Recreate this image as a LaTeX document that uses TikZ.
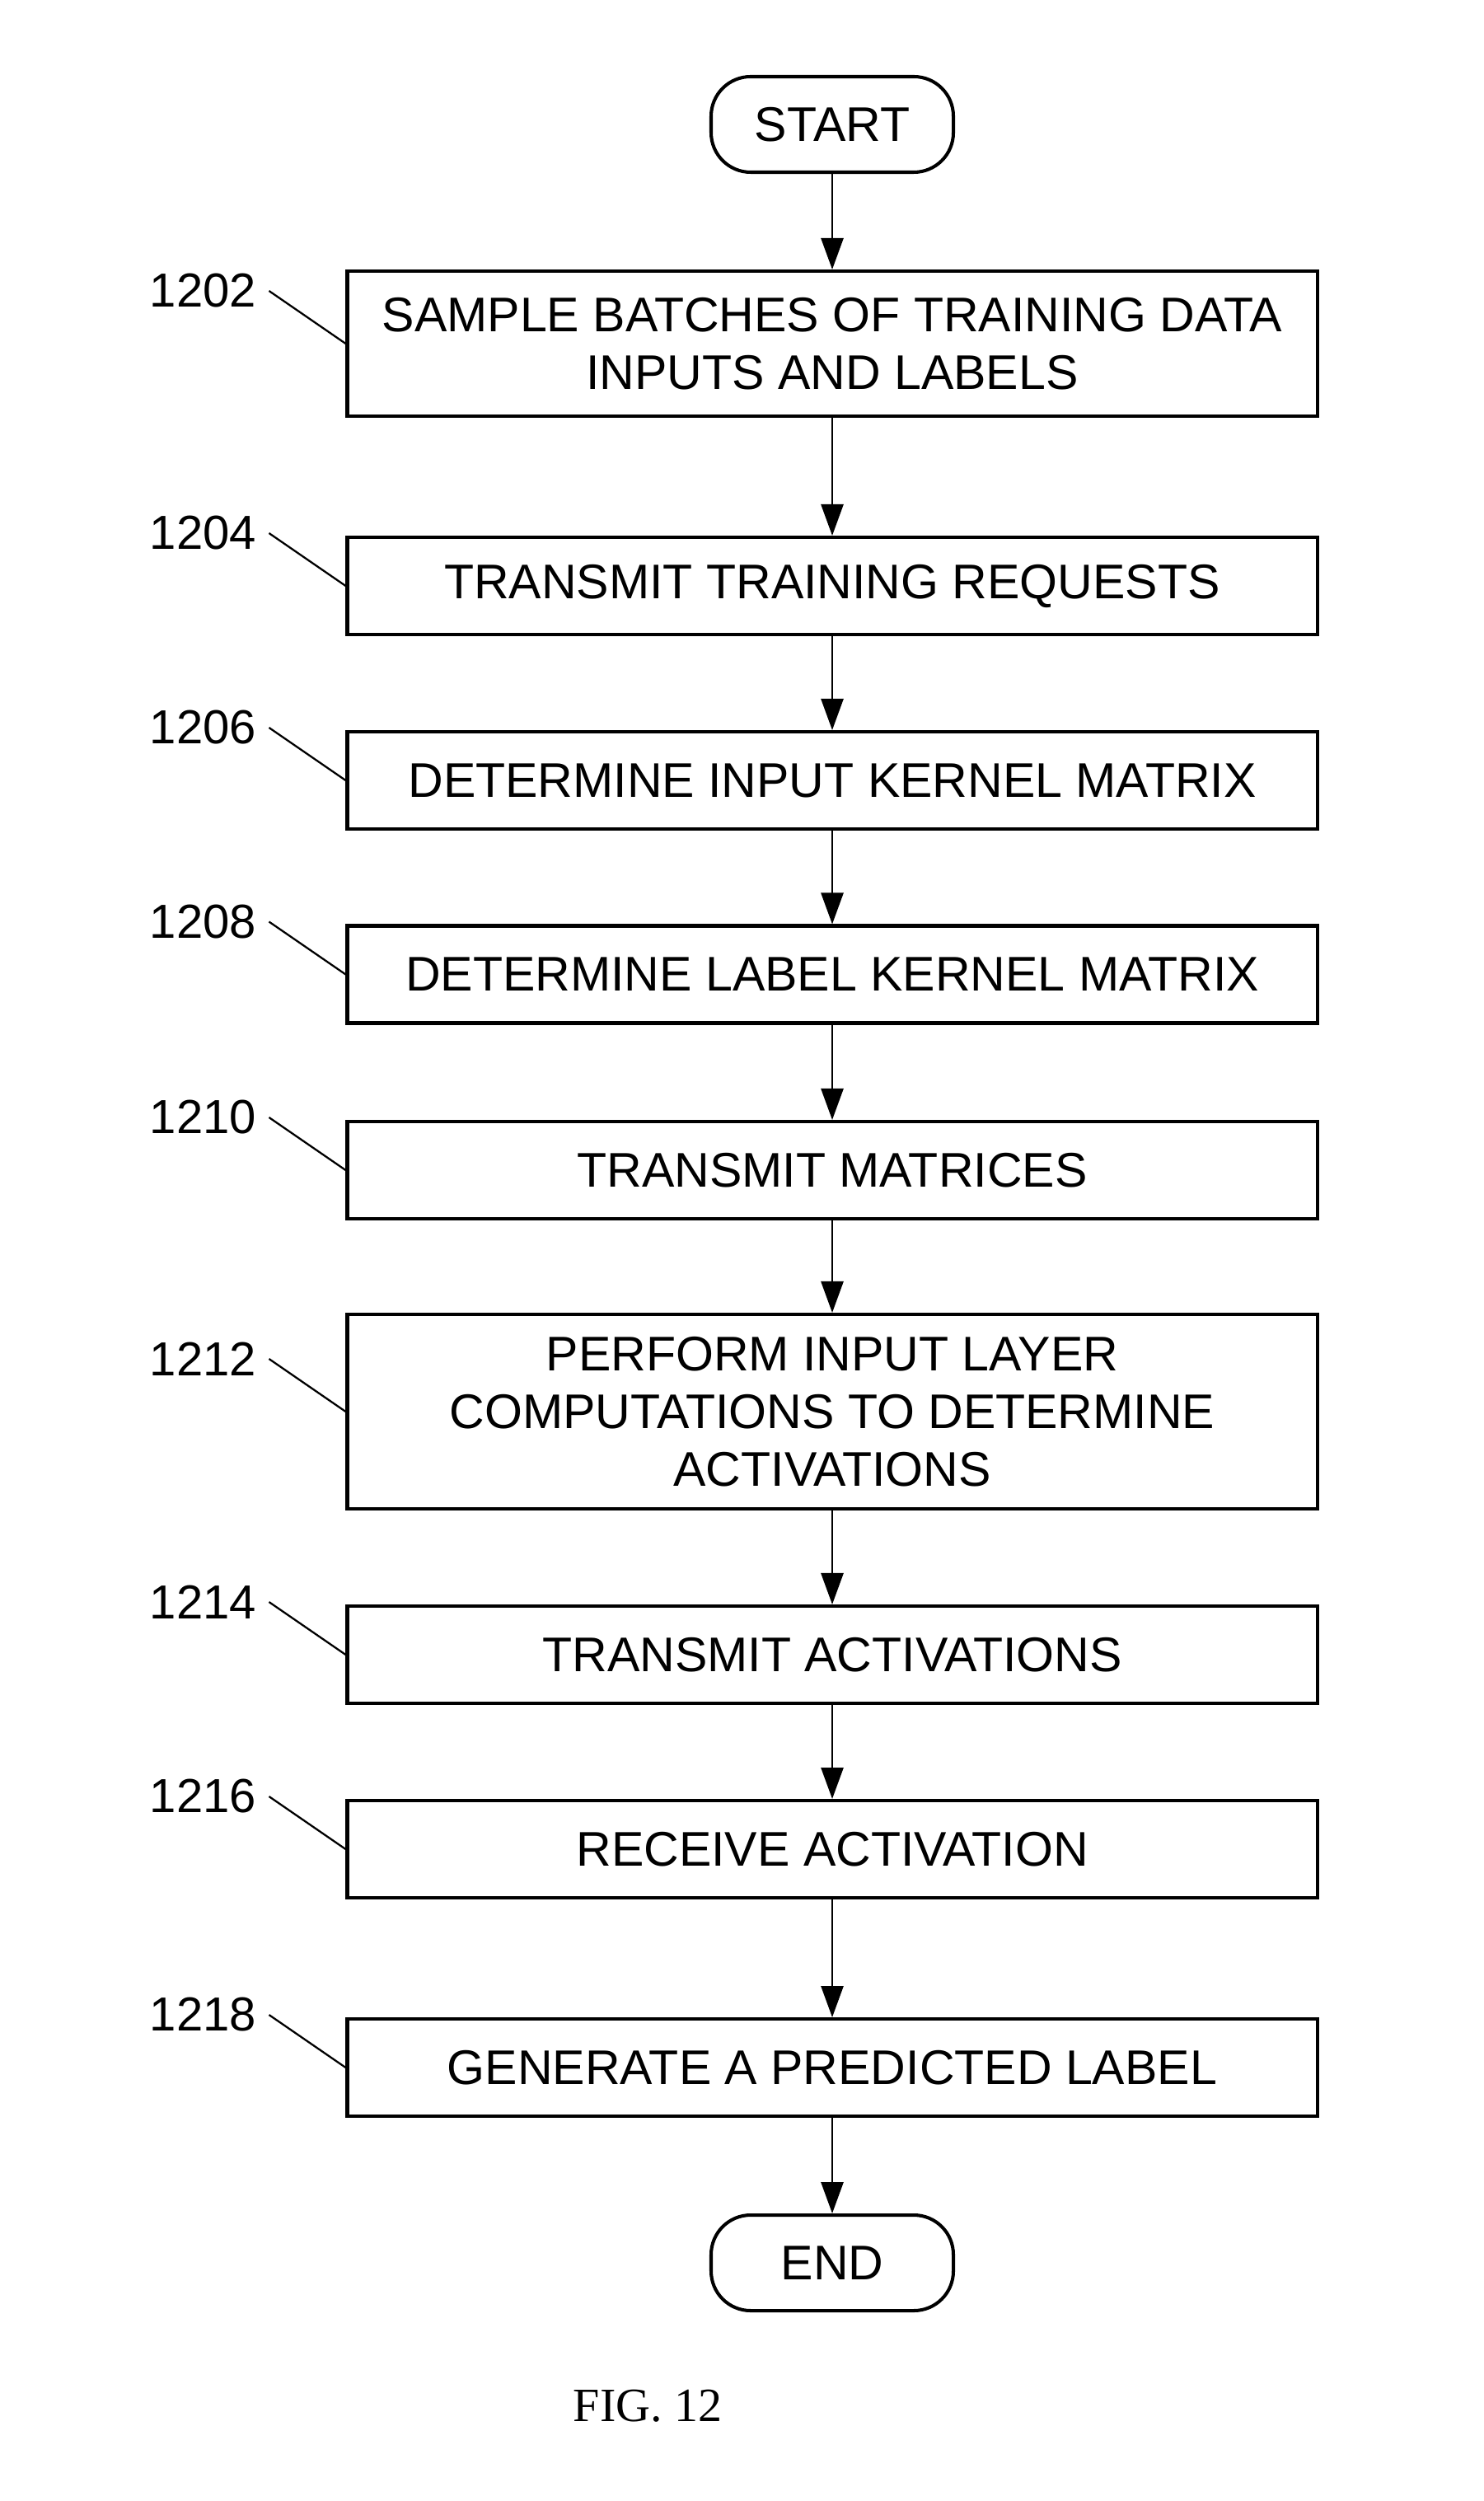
\documentclass[tikz,border=0pt]{standalone}
\usepackage{fontspec}
\setmainfont{Liberation Sans}
\newfontfamily\figfont{Liberation Serif}
\usetikzlibrary{arrows.meta,calc}

\tikzset{
  flowfont/.style={font=\fontsize{16.8}{20}\selectfont},
  stepbox/.style={draw,line width=1.15pt,flowfont,align=center,inner sep=0pt,
    minimum width=11.77cm,minimum height=1.18cm},
  termbox/.style={draw,line width=1.15pt,flowfont,inner sep=0pt,
    rounded corners=0.48cm,minimum width=2.94cm,minimum height=1.16cm},
  refnum/.style={font=\fontsize{16.5}{20}\selectfont,anchor=east,inner xsep=0.15cm,inner ysep=0pt},
  flow/.style={-{Triangle[length=3.8mm,width=2.7mm]},line width=0.75pt},
  leader/.style={line width=0.65pt}
}

\begin{document}
\begin{tikzpicture}
\useasboundingbox (0,0) rectangle (18,-30.35);

\node[termbox] (start) at (10.1,-1.51) {START};

\node[stepbox,minimum height=1.76cm] (s1202) at (10.1,-4.17)
  {SAMPLE BATCHES OF TRAINING DATA\\INPUTS AND LABELS};
\node[stepbox] (s1204) at (10.1,-7.11) {TRANSMIT TRAINING REQUESTS};
\node[stepbox] (s1206) at (10.1,-9.47) {DETERMINE INPUT KERNEL MATRIX};
\node[stepbox] (s1208) at (10.1,-11.825) {DETERMINE LABEL KERNEL MATRIX};
\node[stepbox] (s1210) at (10.1,-14.20) {TRANSMIT MATRICES};
\node[stepbox,minimum height=2.36cm] (s1212) at (10.1,-17.13)
  {PERFORM INPUT LAYER\\COMPUTATIONS TO DETERMINE\\ACTIVATIONS};
\node[stepbox] (s1214) at (10.1,-20.08) {TRANSMIT ACTIVATIONS};
\node[stepbox] (s1216) at (10.1,-22.44) {RECEIVE ACTIVATION};
\node[stepbox] (s1218) at (10.1,-25.09) {GENERATE A PREDICTED LABEL};

\node[termbox] (end) at (10.1,-27.46) {END};

\node[font=\figfont\fontsize{16.5}{20}\selectfont] (fig) at (7.86,-29.20) {FIG. 12};

% arrows
\foreach \a/\b in {start/s1202,s1202/s1204,s1204/s1206,s1206/s1208,s1208/s1210,
  s1210/s1212,s1212/s1214,s1214/s1216,s1216/s1218,s1218/end}
  \draw[flow] (\a) -- (\b);

% reference numerals
\foreach \n in {1202,1204,...,1218} {
  \node[refnum] (l\n) at ($(s\n.west)+(-0.93,0.64)$) {\n};
  \draw[leader] (l\n.east) -- (s\n.west);
}

\end{tikzpicture}
\end{document}
